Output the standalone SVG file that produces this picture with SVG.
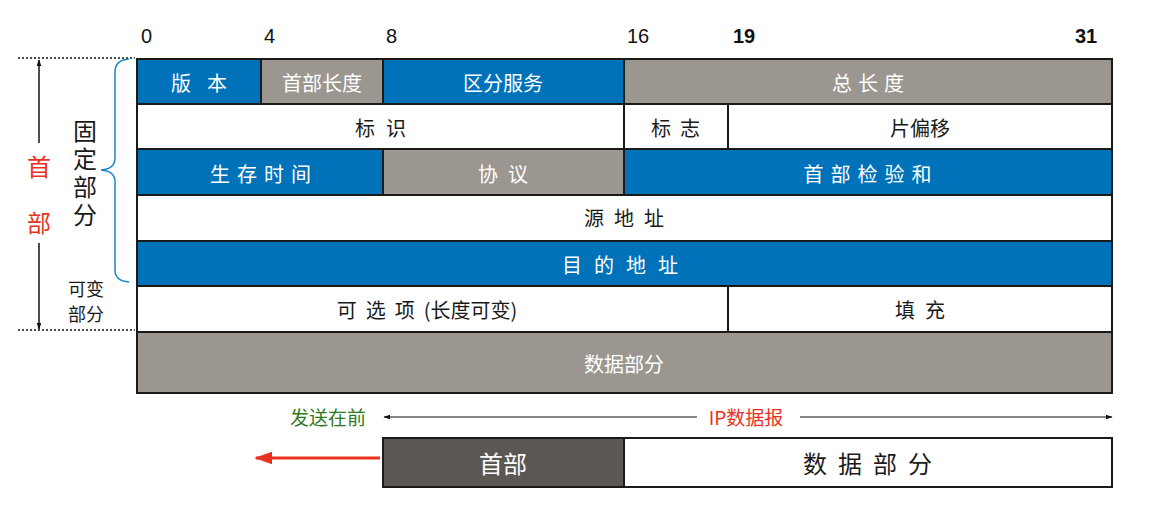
<svg xmlns="http://www.w3.org/2000/svg" width="1150" height="512" viewBox="0 0 1150 512">
<defs>
<style>
.c{stroke:#1a1a1a;stroke-width:2}
.b{fill:#0072B9}
.g{fill:#9B9690}
.w{fill:#ffffff}
.d{fill:#5B5752}
text{font-family:"Noto Sans CJK SC","Noto Sans",sans-serif;text-anchor:middle;dominant-baseline:central}
.t{font-size:20px}
.tw{fill:#ffffff}
.tk{fill:#1a1a1a}
.n{font-family:"Liberation Sans",Arial,sans-serif;font-size:20px;fill:#111;text-anchor:start}
.nb{font-weight:bold}
.v{font-size:24px;fill:#1a1a1a;writing-mode:vertical-rl;text-orientation:upright}
</style>
<marker id="ah" viewBox="0 0 10 10" refX="9" refY="5" markerWidth="7" markerHeight="7" orient="auto-start-reverse" markerUnits="userSpaceOnUse"><path d="M0,1.5 L10,5 L0,8.5 Z" fill="#111"/></marker>
<marker id="ahr" viewBox="0 0 10 10" refX="9" refY="5" markerWidth="18" markerHeight="18" orient="auto" markerUnits="userSpaceOnUse"><path d="M0,1.5 L10,5 L0,8.5 Z" fill="#E8321E"/></marker>
</defs>
<rect width="1150" height="512" fill="#fff"/>

<g id="bit-labels">
<text class="n" x="141" y="36">0</text>
<text class="n" x="264" y="36">4</text>
<text class="n" x="386" y="36">8</text>
<text class="n" x="627" y="36">16</text>
<text class="n nb" x="733" y="36">19</text>
<text class="n nb" x="1075" y="36">31</text>
</g>

<g id="row1">
<rect class="c b" x="137" y="59" width="124" height="45"/>
<text class="t tw" x="207" y="82" letter-spacing="16">版本</text>
<rect class="c g" x="261" y="59" width="122" height="45"/>
<text class="t tw" x="322" y="82">首部长度</text>
<rect class="c b" x="383" y="59" width="241" height="45"/>
<text class="t tw" x="503" y="82">区分服务</text>
<rect class="c g" x="624" y="59" width="488" height="45"/>
<text class="t tw" x="871" y="82" letter-spacing="6">总长度</text>
</g>

<g id="row2">
<rect class="c w" x="137" y="104" width="487" height="45"/>
<text class="t tk" x="386" y="127" letter-spacing="11">标识</text>
<rect class="c w" x="624" y="104" width="104" height="45"/>
<text class="t tk" x="680" y="127" letter-spacing="9">标志</text>
<rect class="c w" x="728" y="104" width="384" height="45"/>
<text class="t tk" x="920" y="127">片偏移</text>
</g>

<g id="row3">
<rect class="c b" x="137" y="149" width="246" height="46"/>
<text class="t tw" x="264" y="173" letter-spacing="7">生存时间</text>
<rect class="c g" x="383" y="149" width="241" height="46"/>
<text class="t tw" x="508" y="173" letter-spacing="10">协议</text>
<rect class="c b" x="624" y="149" width="488" height="46"/>
<text class="t tw" x="871" y="173" letter-spacing="7">首部检验和</text>
</g>

<g id="row4">
<rect class="c w" x="137" y="195" width="975" height="46"/>
<text class="t tk" x="629" y="217" letter-spacing="10">源地址</text>
</g>

<g id="row5">
<rect class="c b" x="137" y="241" width="975" height="45"/>
<text class="t tw" x="626" y="264" letter-spacing="12">目的地址</text>
</g>

<g id="row6">
<rect class="c w" x="137" y="286" width="591" height="46"/>
<text class="t tk" x="427" y="309"><tspan letter-spacing="9">可选项</tspan><tspan>(长度可变)</tspan></text>
<rect class="c w" x="728" y="286" width="384" height="46"/>
<text class="t tk" x="925" y="309" letter-spacing="10">填充</text>
</g>

<g id="data">
<rect class="c g" x="137" y="332" width="975" height="61"/>
<text class="t tw" x="624" y="363">数据部分</text>
</g>

<g id="left-annot">
<line x1="18" y1="58" x2="135" y2="58" stroke="#111" stroke-width="1.5" stroke-dasharray="2,2"/>
<line x1="18" y1="330" x2="135" y2="330" stroke="#111" stroke-width="1.5" stroke-dasharray="2,2"/>
<text x="39" y="165" font-size="24" fill="#E8321E">首</text>
<text x="39" y="221" font-size="24" fill="#E8321E">部</text>
<text class="v" x="85" y="175" letter-spacing="4">固定部分</text>
<text x="86" y="288" font-size="18" fill="#1a1a1a">可变</text>
<text x="86" y="313" font-size="18" fill="#1a1a1a">部分</text>
<path d="M129,59 Q115,60 115,72 L115,158 Q115,169 101,170 Q115,171 115,182 L115,270 Q115,281 129,282" fill="none" stroke="#1a86c8" stroke-width="1.5"/>
</g>

<g id="connectors">
<line x1="39" y1="143" x2="39" y2="60" stroke="#111" stroke-width="1.5" marker-end="url(#ah)"/>
<line x1="39" y1="243" x2="39" y2="329" stroke="#111" stroke-width="1.5" marker-end="url(#ah)"/>
<line x1="697" y1="417" x2="384" y2="417" stroke="#111" stroke-width="1.2" marker-end="url(#ah)"/>
<line x1="800" y1="417" x2="1112" y2="417" stroke="#111" stroke-width="1.2" marker-end="url(#ah)"/>
<line x1="380" y1="458" x2="256" y2="458" stroke="#E8321E" stroke-width="3" marker-end="url(#ahr)"/>
</g>

<g id="send-labels">
<text x="328" y="416" font-size="19" fill="#2E7A1E">发送在前</text>
<text x="746" y="416" font-size="19" fill="#E8321E">IP数据报</text>
</g>

<g id="datagram">
<rect class="c d" x="383" y="438" width="241" height="49"/>
<text x="503" y="462" font-size="24" fill="#fff">首部</text>
<rect class="c w" x="624" y="438" width="488" height="49"/>
<text x="873" y="462" font-size="24" fill="#1a1a1a" letter-spacing="11">数据部分</text>
</g>
</svg>
